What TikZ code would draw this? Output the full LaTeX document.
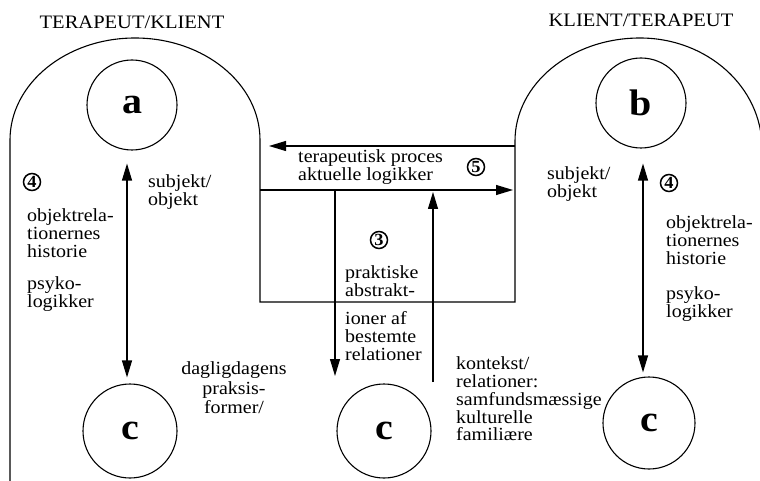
\documentclass[tikz,border=0pt]{standalone}
\usepackage{fontspec}
\setmainfont[FakeStretch=1.08]{Liberation Serif}
\usetikzlibrary{arrows.meta}
\tikzset{
  ln/.style={line width=1.1pt},
  arr/.style={ln,-{Triangle[length=17pt,width=10pt]}},
  darr/.style={ln,{Triangle[length=17pt,width=10pt]}-{Triangle[length=17pt,width=10pt]}},
  letter/.style={circle,draw,ln,inner sep=0pt,minimum size=#1,font=\fontsize{37}{37}\selectfont\bfseries},
  num/.style={circle,draw,line width=1.5pt,inner sep=0pt,minimum size=17pt,font=\fontsize{17}{17}\selectfont\bfseries},
  lbl/.style={inner sep=0pt,align=left,anchor=west,font=\fontsize{18.5}{17.8}\selectfont},
  clbl/.style={inner sep=0pt,align=center,font=\fontsize{18.5}{19.5}\selectfont},
  head/.style={inner sep=0pt,font=\fontsize{19}{19}\selectfont}
}
\begin{document}
\begin{tikzpicture}[x=1pt,y=1pt]
\useasboundingbox (0,0) rectangle (760,-481);
\clip (0,0) rectangle (760,-481);
% arches and box
\draw[ln] (10,-481) -- (10,-140) arc[start angle=180,end angle=0,x radius=125,y radius=102]
  -- (260,-302) -- (515,-302) -- (515,-141)
  arc[start angle=180,end angle=90,x radius=125,y radius=103]
  arc[start angle=90,end angle=0,x radius=122,y radius=110] -- (762,-481);
% circles
\node[letter=90pt] (a) at (132,-105) {a};
\node[letter=90pt] (b) at (641,-103) {b};
\node[letter=94pt] (c1) at (130,-431) {c};
\node[letter=94pt] (c2) at (384,-431) {c};
\node[letter=92pt] (c3) at (649,-423) {c};
% headings
\node[head] (h1) at (132,-22) {TERAPEUT/KLIENT};
\node[head] (h2) at (641,-20) {KLIENT/TERAPEUT};
% coordinates for the process arrows
\coordinate (pr) at (515,-146);
\coordinate (pl) at (269,-146);
\coordinate (ql) at (260,-190);
\coordinate (qr) at (513,-190);
\coordinate (dtop) at (335,-190);
\coordinate (dbot) at (335,-376);
\coordinate (ubot) at (433,-382);
\coordinate (utop) at (433,-192);
% arrows
\draw[arr] (pr) -- (pl);
\draw[arr] (ql) -- (qr);
\draw[arr] (dtop) -- (dbot);
\draw[arr] (ubot) -- (utop);
\draw[darr] ([xshift=-5pt,yshift=-13pt]a.south) -- ([xshift=-3pt,yshift=6pt]c1.north);
\draw[darr] ([xshift=2pt,yshift=-15pt]b.south) -- ([xshift=-6pt,yshift=4pt]c3.north);
% circled numbers
\node[num] (n4l) at (32,-182) {4};
\node[num] (n5) at (476,-167) {5};
\node[num] (n3) at (379,-240) {3};
\node[num] (n4r) at (669,-183) {4};
% labels
\node[lbl] (t1) at (148,-192) {subjekt/\\objekt};
\node[lbl] (t2) at (27,-233) {objektrela-\\tionernes\\historie};
\node[lbl] (t3) at (27,-294) {psyko-\\logikker};
\node[lbl] (t4) at (298,-167) {terapeutisk proces\\aktuelle logikker};
\node[lbl] (t5) at (345,-281) {praktiske\\abstrakt-};
\node[lbl] (t6) at (345,-336) {ioner af\\bestemte\\relationer};
\node[clbl] (t7) at (234,-388) {dagligdagens\\praksis-\\former/};
\node[lbl] (t8) at (456,-399) {kontekst/\\relationer:\\samfundsmæssige\\kulturelle\\familiære};
\node[lbl] (t9) at (547,-184) {subjekt/\\objekt};
\node[lbl] (t10) at (666,-240) {objektrela-\\tionernes\\historie};
\node[lbl] (t11) at (666,-304) {psyko-\\logikker};
\end{tikzpicture}
\end{document}
